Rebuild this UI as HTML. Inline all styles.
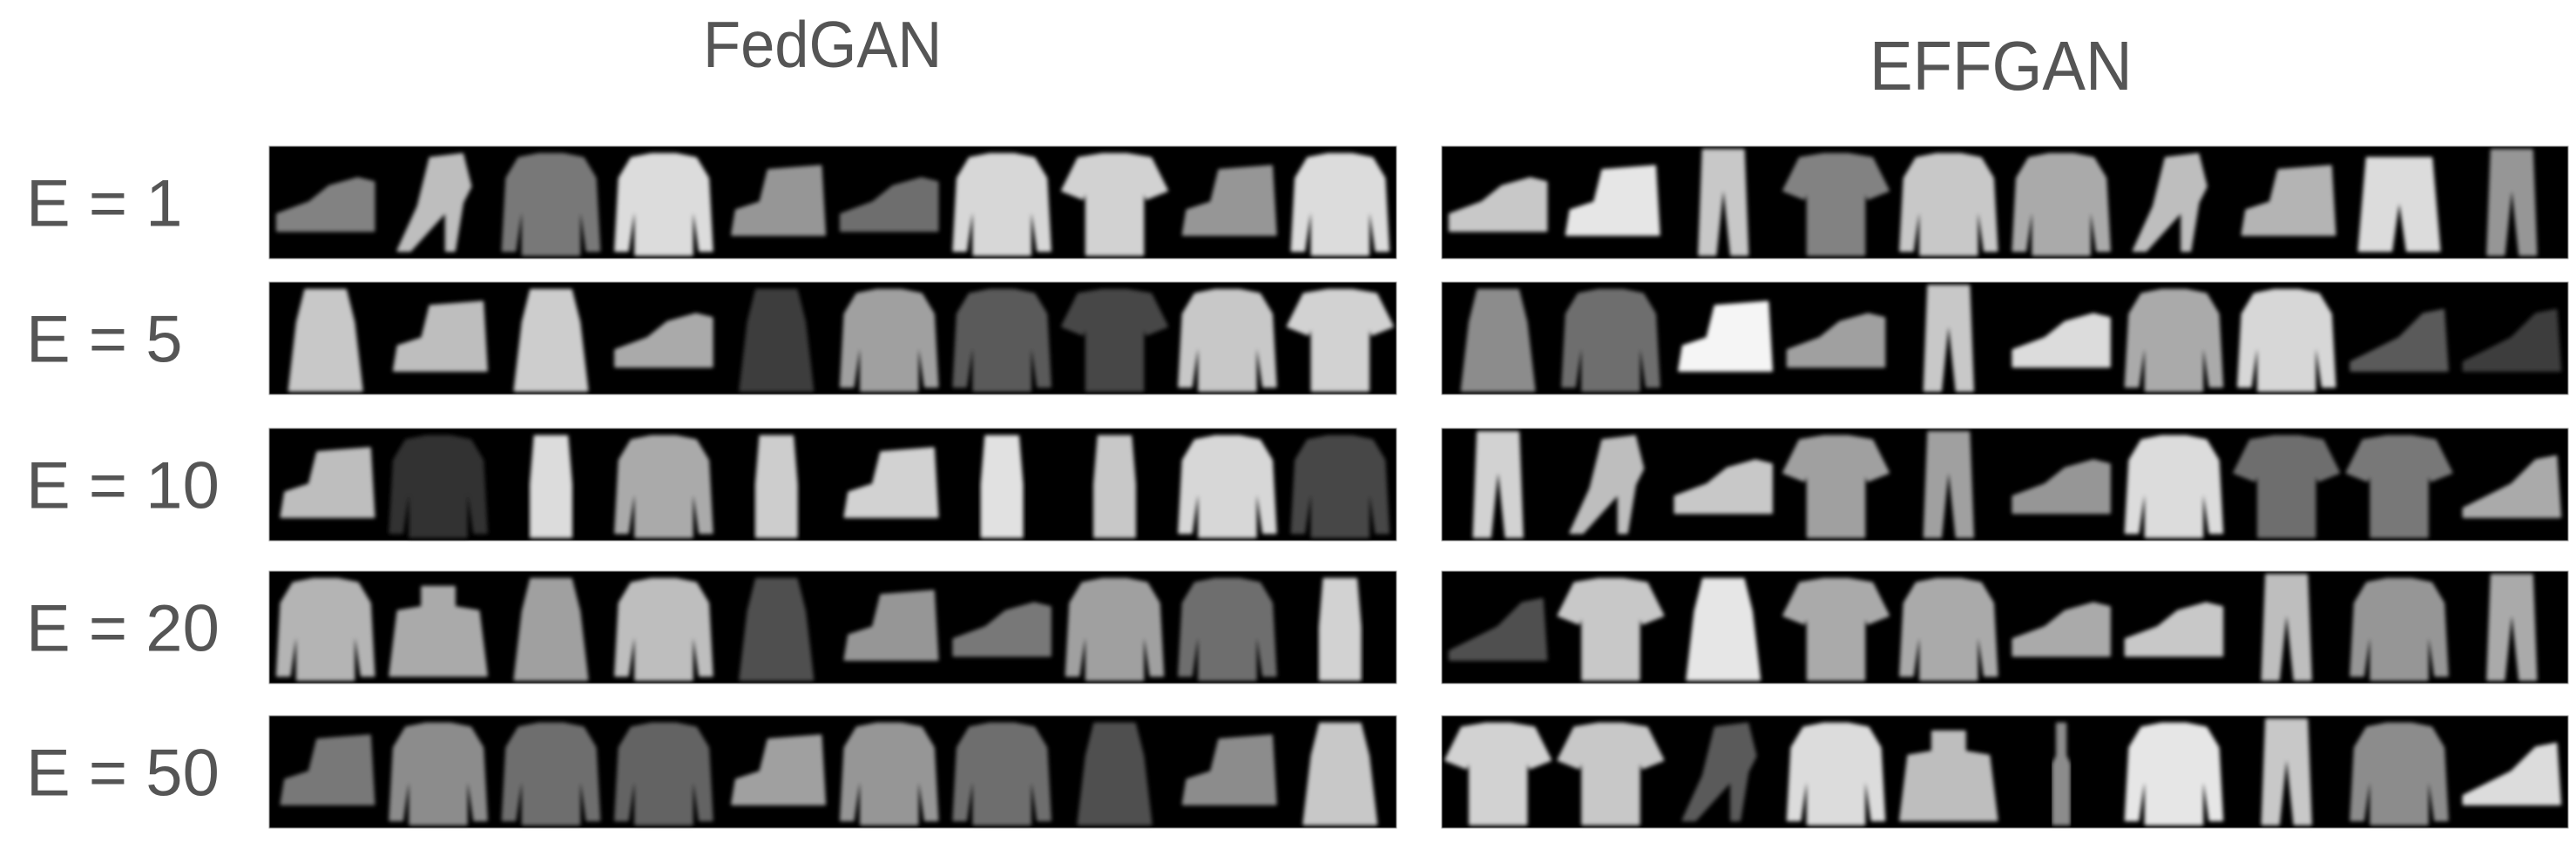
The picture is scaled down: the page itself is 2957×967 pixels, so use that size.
<!DOCTYPE html>
<html><head><meta charset="utf-8"><style>
html,body{margin:0;padding:0;background:#fff;}
body{width:2957px;height:967px;position:relative;overflow:hidden;font-family:"Liberation Sans",sans-serif;color:#555;}
.t{position:absolute;white-space:nowrap;line-height:1;}
</style></head><body>
<div class="t" style="left:807px;top:14px;font-size:75px;transform:scaleX(0.94);transform-origin:left top;">FedGAN</div>
<div class="t" style="left:2146px;top:36px;font-size:80px;transform:scaleX(0.93);transform-origin:left top;">EFFGAN</div>
<svg id="chart" width="2957" height="967" style="position:absolute;left:0;top:0">
<defs><filter id="soft" x="-10%" y="-10%" width="120%" height="120%"><feGaussianBlur stdDeviation="2.5"/></filter></defs>
</svg>
<script>
const rowLabels=["E = 1","E = 5","E = 10","E = 20","E = 50"];
const rowTops=[168,324,492,656,822];
const fedTypes=[
["sneaker","heel","shirt","shirt","boot","sneaker","shirt","tshirt","boot","shirt"],
["dress","boot","dress","sneaker","dress","shirt","shirt","tshirt","shirt","tshirt"],
["boot","shirt","narrow","shirt","narrow","boot","narrow","narrow","shirt","shirt"],
["shirt","bag","dress","shirt","dress","boot","sneaker","shirt","shirt","narrow"],
["boot","shirt","shirt","shirt","boot","shirt","shirt","dress","boot","dress"]];
const fedGray=[
[130,190,120,220,150,110,215,210,150,220],
[200,190,205,170,60,160,90,70,200,210],
[190,50,220,170,205,210,225,200,215,70],
[180,170,160,190,80,150,120,160,110,210],
[120,140,110,100,160,150,110,80,140,200]];
const effTypes=[
["sneaker","boot","pants","tshirt","shirt","shirt","heel","boot","shorts","pants"],
["dress","shirt","boot","sneaker","pants","sneaker","shirt","shirt","sandal","sandal"],
["pants","heel","sneaker","tshirt","pants","sneaker","shirt","tshirt","tshirt","sandal"],
["sandal","tshirt","dress","tshirt","shirt","sneaker","sneaker","pants","shirt","pants"],
["tshirt","tshirt","heel","shirt","bag","thin","shirt","pants","shirt","sandal"]];
const effGray=[
[200,230,200,130,200,170,190,180,220,150],
[140,110,245,160,200,220,170,215,90,60],
[210,190,200,160,160,150,220,110,120,170],
[80,200,230,170,170,170,200,190,150,170],
[210,200,90,220,190,140,230,200,140,220]];
const panels=[{x0:309,x1:1603,types:fedTypes,gray:fedGray,name:"fedgan"},{x0:1655,x1:2948,types:effTypes,gray:effGray,name:"effgan"}];
const stripH=129;
const shapes={
shirt:"6,3 11,2 17,2 22,3 25,8 26,26 23,26 21,12 21,27 7,27 7,12 5,26 2,26 3,8",
tshirt:"5,3 11,2 17,2 23,3 27,11 22,13 21,10 21,27 7,27 7,10 6,13 1,11",
dress:"9,2 19,2 21,10 23,27 5,27 7,10",
narrow:"10,2 18,2 19,14 19,27 9,27 9,14",
pants:"9,1 19,1 20,27 16,27 14,8 12,27 8,27",
thin:"13,2 15,2 15,10 16,12 16,27 12,27 12,12 13,10",
shorts:"6,3 22,3 24,26 16,26 14,12 12,26 4,26",
sneaker:"2,17 10,14 15,10 22,8 26,9 26,21 2,21",
boot:"4,16 10,14 12,6 25,5 26,22 3,22",
heel:"12,3 20,2 22,10 20,14 18,26 16,26 16,16 7,26 4,26 9,15",
sandal:"2,20 8,17 14,14 20,8 25,7 26,22 2,22",
bag:"4,10 10,9 10,4 18,4 18,9 24,10 26,26 2,26"};
const svg=document.getElementById('chart');
const NS="http://www.w3.org/2000/svg";
rowLabels.forEach((lab,r)=>{
  const t=document.createElementNS(NS,'text');
  
  
  t.setAttribute('x',30);t.setAttribute('y',rowTops[r]+stripH/2+27);
  t.setAttribute('font-size','76');t.setAttribute('fill','#555');
  t.setAttribute('font-family','Liberation Sans, sans-serif');
  t.textContent=lab;svg.appendChild(t);
});
panels.forEach(p=>{
  const w=(p.x1-p.x0)/10;
  rowTops.forEach((y,r)=>{
    const bg=document.createElementNS(NS,'rect');
    
    
    bg.setAttribute('x',p.x0);bg.setAttribute('y',y);bg.setAttribute('width',p.x1-p.x0);bg.setAttribute('height',stripH);
    bg.setAttribute('fill','#000');bg.setAttribute('stroke','#999');bg.setAttribute('stroke-width','1');
    svg.appendChild(bg);
    p.types[r].forEach((ty,c)=>{
      const g=p.gray[r][c];
      const pg=document.createElementNS(NS,'polygon');
      
      
      const s=Math.min(w,stripH)/28;
      const pts=shapes[ty].split(' ').map(q=>{const [a,b]=q.split(',').map(Number);return (p.x0+c*w+(w-28*s)/2+a*s).toFixed(1)+','+(y+(stripH-28*s)/2+b*s).toFixed(1);}).join(' ');
      pg.setAttribute('points',pts);
      pg.setAttribute('fill','rgb('+g+','+g+','+g+')');
      pg.setAttribute('stroke','rgb('+g+','+g+','+g+')');
      pg.setAttribute('stroke-width','3');pg.setAttribute('stroke-linejoin','round');
      pg.setAttribute('filter','url(#soft)');
      svg.appendChild(pg);
    });
  });
});
</script>
</body></html>
